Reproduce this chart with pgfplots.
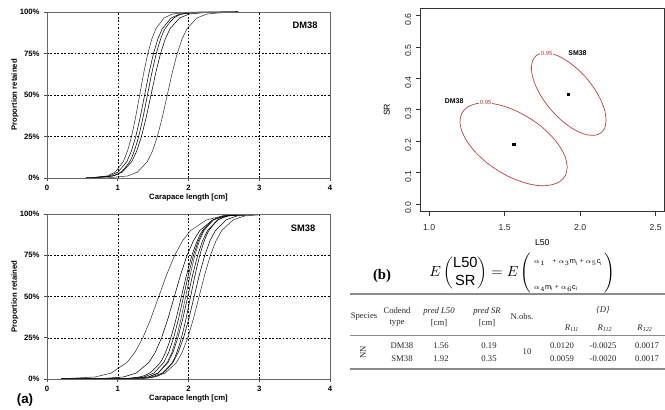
\documentclass[border=0pt]{standalone}
\usepackage{pgfplots}
\pgfplotsset{compat=1.18}
\usepackage{fontspec}
\setmainfont{Liberation Serif}
\newfontfamily\arial{Liberation Sans}
\definecolor{ellred}{RGB}{192,58,58}
\newcommand{\xlfont}{\arial\bfseries\fontsize{5.8}{7}\selectfont}
\newcommand{\rfont}{\arial\fontsize{6.5}{8}\selectfont}

\pgfplotsset{
  excel/.style={
    scale only axis, width=212.25pt,
    xmin=0, xmax=4, ymin=0, ymax=100,
    xtick={0,1,2,3,4}, ytick={0,25,50,75,100},
    yticklabels={0\%,25\%,50\%,75\%,100\%},
    grid=major,
    major grid style={black, line width=0.35pt, dash pattern=on 1.3pt off 1.3pt},
    axis on top,
    axis line style={black!60, line width=0.7pt},
    tick pos=left, tick align=outside, major tick length=2pt,
    major tick style={black!70, line width=0.5pt},
    ticklabel style={font=\xlfont},
    /pgf/number format/assume math mode=true,
    xlabel={Carapace length [cm]}, ylabel={Proportion retained},
    every axis x label/.style={at={(axis description cs:0.5,0)}, anchor=center, yshift=-15pt, font=\xlfont},
    every axis y label/.style={at={(axis description cs:0,0.5)}, anchor=center, xshift=-24pt, rotate=90, font=\xlfont},
    cycle list={{black!80, line width=0.4pt, smooth, mark=none}},
  },
}

\begin{document}
\begin{tikzpicture}[x=0.75pt,y=-0.75pt]
\useasboundingbox (0,0) rectangle (665,410);

% (a) top: DM38
\begin{axis}[excel, at={(47*0.75pt,-178*0.75pt)}, anchor=south west, height=124.5pt]
\addplot coordinates {(0.55,0.03) (0.62,0.14) (0.85,1.22) (0.965,3.57) (1.08,10) (1.1375,16.14) (1.195,25) (1.2525,36.6) (1.31,50) (1.3675,63.4) (1.425,75) (1.4825,83.86) (1.54,90) (1.655,96.43) (1.77,98.78) (2.00,99.86) (2.7,100)};
\addplot coordinates {(0.55,0.03) (0.63,0.14) (0.88,1.22) (1.005,3.57) (1.13,10) (1.1925,16.14) (1.255,25) (1.3175,36.6) (1.38,50) (1.4425,63.4) (1.505,75) (1.5675,83.86) (1.63,90) (1.755,96.43) (1.88,98.78) (2.13,99.86) (2.7,100)};
\addplot coordinates {(0.55,0.03) (0.67,0.14) (0.92,1.22) (1.045,3.57) (1.17,10) (1.2325,16.14) (1.295,25) (1.3575,36.6) (1.42,50) (1.4825,63.4) (1.545,75) (1.6075,83.86) (1.67,90) (1.795,96.43) (1.92,98.78) (2.17,99.86) (2.7,100)};
\addplot coordinates {(0.55,0.03) (0.66,0.14) (0.93,1.22) (1.065,3.57) (1.20,10) (1.2675,16.14) (1.335,25) (1.4025,36.6) (1.47,50) (1.5375,63.4) (1.605,75) (1.6725,83.86) (1.74,90) (1.875,96.43) (2.01,98.78) (2.28,99.86) (2.7,100)};
\addplot coordinates {(0.55,0.01) (0.86,0.14) (1.14,1.22) (1.28,3.57) (1.42,10) (1.49,16.14) (1.56,25) (1.63,36.6) (1.70,50) (1.77,63.4) (1.84,75) (1.91,83.86) (1.98,90) (2.12,96.43) (2.26,98.78) (2.54,99.86) (2.7,99.95)};
\node[font=\arial\bfseries\fontsize{7}{8}\selectfont] at (rel axis cs:0.912,0.92) {DM38};
\end{axis}

% (a) bottom: SM38
\begin{axis}[excel, at={(47*0.75pt,-379*0.75pt)}, anchor=south west, height=123.75pt]
\addplot coordinates {(0.2,0.12) (0.68,1.22) (0.905,3.57) (1.13,10) (1.2425,16.14) (1.355,25) (1.4675,36.6) (1.58,50) (1.6925,63.4) (1.805,75) (1.9175,83.86) (2.03,90) (2.255,96.43) (2.48,98.78) (2.93,99.86) (3.3,99.97)};
\addplot coordinates {(0.2,0.01) (0.72,0.14) (1.08,1.22) (1.26,3.57) (1.44,10) (1.53,16.14) (1.62,25) (1.71,36.6) (1.80,50) (1.89,63.4) (1.98,75) (2.07,83.86) (2.16,90) (2.34,96.43) (2.52,98.78) (2.88,99.86) (3.3,100)};
\addplot coordinates {(0.2,0) (1.00,0.14) (1.30,1.22) (1.45,3.57) (1.60,10) (1.675,16.14) (1.75,25) (1.825,36.6) (1.90,50) (1.975,63.4) (2.05,75) (2.125,83.86) (2.20,90) (2.35,96.43) (2.50,98.78) (2.80,99.86) (3.3,100)};
\addplot coordinates {(0.2,0) (1.09,0.14) (1.37,1.22) (1.51,3.57) (1.65,10) (1.72,16.14) (1.79,25) (1.86,36.6) (1.93,50) (2.00,63.4) (2.07,75) (2.14,83.86) (2.21,90) (2.35,96.43) (2.49,98.78) (2.77,99.86) (3.3,100)};
\addplot coordinates {(0.2,0) (1.18,0.14) (1.44,1.22) (1.57,3.57) (1.70,10) (1.765,16.14) (1.83,25) (1.895,36.6) (1.96,50) (2.025,63.4) (2.09,75) (2.155,83.86) (2.22,90) (2.35,96.43) (2.48,98.78) (2.74,99.86) (3.3,100)};
\addplot coordinates {(0.2,0) (1.15,0.14) (1.43,1.22) (1.57,3.57) (1.71,10) (1.78,16.14) (1.85,25) (1.92,36.6) (1.99,50) (2.06,63.4) (2.13,75) (2.20,83.86) (2.27,90) (2.41,96.43) (2.55,98.78) (2.83,99.86) (3.3,100)};
\addplot coordinates {(0.2,0) (1.25,0.14) (1.51,1.22) (1.64,3.57) (1.77,10) (1.835,16.14) (1.90,25) (1.965,36.6) (2.03,50) (2.095,63.4) (2.16,75) (2.225,83.86) (2.29,90) (2.42,96.43) (2.55,98.78) (2.81,99.86) (3.3,100)};
\addplot coordinates {(0.2,0) (1.18,0.14) (1.48,1.22) (1.63,3.57) (1.78,10) (1.855,16.14) (1.93,25) (2.005,36.6) (2.08,50) (2.155,63.4) (2.23,75) (2.305,83.86) (2.38,90) (2.53,96.43) (2.68,98.78) (2.98,99.86) (3.3,99.98)};
\addplot coordinates {(0.2,0) (1.19,0.14) (1.51,1.22) (1.67,3.57) (1.83,10) (1.91,16.14) (1.99,25) (2.07,36.6) (2.15,50) (2.23,63.4) (2.31,75) (2.39,83.86) (2.47,90) (2.63,96.43) (2.79,98.78) (3.11,99.86) (3.3,99.95)};
\node[font=\arial\bfseries\fontsize{7}{8}\selectfont] at (rel axis cs:0.905,0.915) {SM38};
\end{axis}

% (b) confidence ellipses
\begin{axis}[at={(420*0.75pt,-211.5*0.75pt)}, anchor=south west,
  scale only axis, width=183.5pt, height=152.6pt,
  xmin=0.94, xmax=2.56, ymin=-0.024, ymax=0.624,
  xtick={1,1.5,2,2.5}, xticklabels={1.0,1.5,2.0,2.5},
  ytick={0,0.1,0.2,0.3,0.4,0.5,0.6}, yticklabels={0.0,0.1,0.2,0.3,0.4,0.5,0.6},
  tick pos=left, tick align=outside, major tick length=3pt,
  axis line style={black!80, line width=0.5pt}, major tick style={black!80, line width=0.5pt},
  ticklabel style={font=\rfont, text=black!85},
  x tick label style={yshift=-3pt},
  y tick label style={rotate=90, anchor=south, xshift=-3pt},
  xlabel={L50}, ylabel={SR},
  every axis x label/.style={at={(axis description cs:0.5,0)}, anchor=center, yshift=-23.5pt, font=\rfont},
  every axis y label/.style={at={(axis description cs:0,0.5)}, anchor=center, xshift=-24.75pt, rotate=90, font=\rfont},
]
\addplot[ellred, line width=0.5pt, smooth] coordinates {(1.915,0.117) (1.903,0.091) (1.867,0.072) (1.811,0.061) (1.738,0.058) (1.652,0.065) (1.560,0.080) (1.468,0.103) (1.383,0.131) (1.309,0.164) (1.253,0.198) (1.217,0.232) (1.205,0.263) (1.217,0.289) (1.253,0.308) (1.309,0.319) (1.383,0.322) (1.468,0.315) (1.560,0.300) (1.652,0.277) (1.738,0.249) (1.811,0.216) (1.867,0.182) (1.903,0.148) (1.915,0.117)};
\addplot[ellred, line width=0.5pt, smooth] coordinates {(2.172,0.267) (2.164,0.243) (2.139,0.227) (2.100,0.219) (2.049,0.220) (1.989,0.230) (1.925,0.248) (1.861,0.273) (1.802,0.303) (1.750,0.337) (1.711,0.371) (1.686,0.404) (1.678,0.433) (1.686,0.457) (1.711,0.473) (1.750,0.481) (1.802,0.480) (1.861,0.470) (1.925,0.452) (1.989,0.427) (2.049,0.397) (2.100,0.363) (2.139,0.329) (2.164,0.296) (2.172,0.267)};
\addplot[only marks, mark=square*, mark size=0.9pt, black] coordinates {(1.56,0.19) (1.92,0.35)};
\node[fill=white, inner sep=0.6pt, text=ellred, font=\arial\fontsize{4.5}{5}\selectfont] at (axis cs:1.375,0.322) {0.95};
\node[fill=white, inner sep=0.6pt, text=ellred, font=\arial\fontsize{4.5}{5}\selectfont] at (axis cs:1.779,0.479) {0.95};
\node[font=\arial\bfseries\fontsize{5.2}{6}\selectfont] at (axis cs:1.166,0.326) {DM38};
\node[font=\arial\bfseries\fontsize{5.2}{6}\selectfont] at (axis cs:1.983,0.482) {SM38};
\end{axis}

% panel letters
\node[font=\arial\bfseries\fontsize{10}{12}\selectfont] at (25,400) {(a)};
\node[font=\bfseries\fontsize{11}{13}\selectfont] at (382,276) {(b)};

% model equation
\node[anchor=west, inner sep=0pt, font=\fontsize{11}{13}\selectfont] at (429,273) {$E\left(\begin{array}{@{}c@{}}\mbox{\arial L50}\\ \mbox{\arial SR}\end{array}\right)=E\left(\begin{array}{@{\,}l@{\,}}\mbox{\fontsize{5.5}{6}\selectfont $\alpha_1$\quad + $\alpha_3${\arial m\textsubscript{i}} + $\alpha_5${\arial c\textsubscript{i}}}\\[6pt] \mbox{\fontsize{5.5}{6}\selectfont $\alpha_4${\arial m\textsubscript{i}} + $\alpha_6${\arial c\textsubscript{i}}}\end{array}\right)$};

% table
\draw[black!45, line width=1pt] (350,294) -- (665,294);
\draw[black!45, line width=0.6pt] (350,335) -- (665,335);
\draw[black!45, line width=1pt] (350,369) -- (665,369);
\begin{scope}[every node/.style={font=\fontsize{6.5}{7.5}\selectfont, inner sep=0pt, text=black!85}]
\node at (364,317) {Species};
\node at (397,311) {Codend};
\node at (397,323) {type};
\node at (439,311) {\textit{pred L50}};
\node at (439,323) {[cm]};
\node at (487,311) {\textit{pred SR}};
\node at (487,323) {[cm]};
\node at (522,317) {N.obs.};
\node at (603,310) {\textit{\{D\}}};
\node at (572,328) {\textit{R}\textsubscript{\textit{111}}};
\node at (605,328) {\textit{R}\textsubscript{\textit{112}}};
\node at (645,328) {\textit{R}\textsubscript{\textit{122}}};
\node[rotate=90] at (363,352) {NN};
\node at (402,346) {DM38};
\node at (402,359) {SM38};
\node at (441,346) {1.56};
\node at (441,359) {1.92};
\node at (489,346) {0.19};
\node at (489,359) {0.35};
\node at (527,352) {10};
\node at (562,346) {0.0120};
\node at (603,346) {-0.0025};
\node at (647,346) {0.0017};
\node at (562,359) {0.0059};
\node at (603,359) {-0.0020};
\node at (647,359) {0.0017};
\end{scope}
\end{tikzpicture}
\end{document}
